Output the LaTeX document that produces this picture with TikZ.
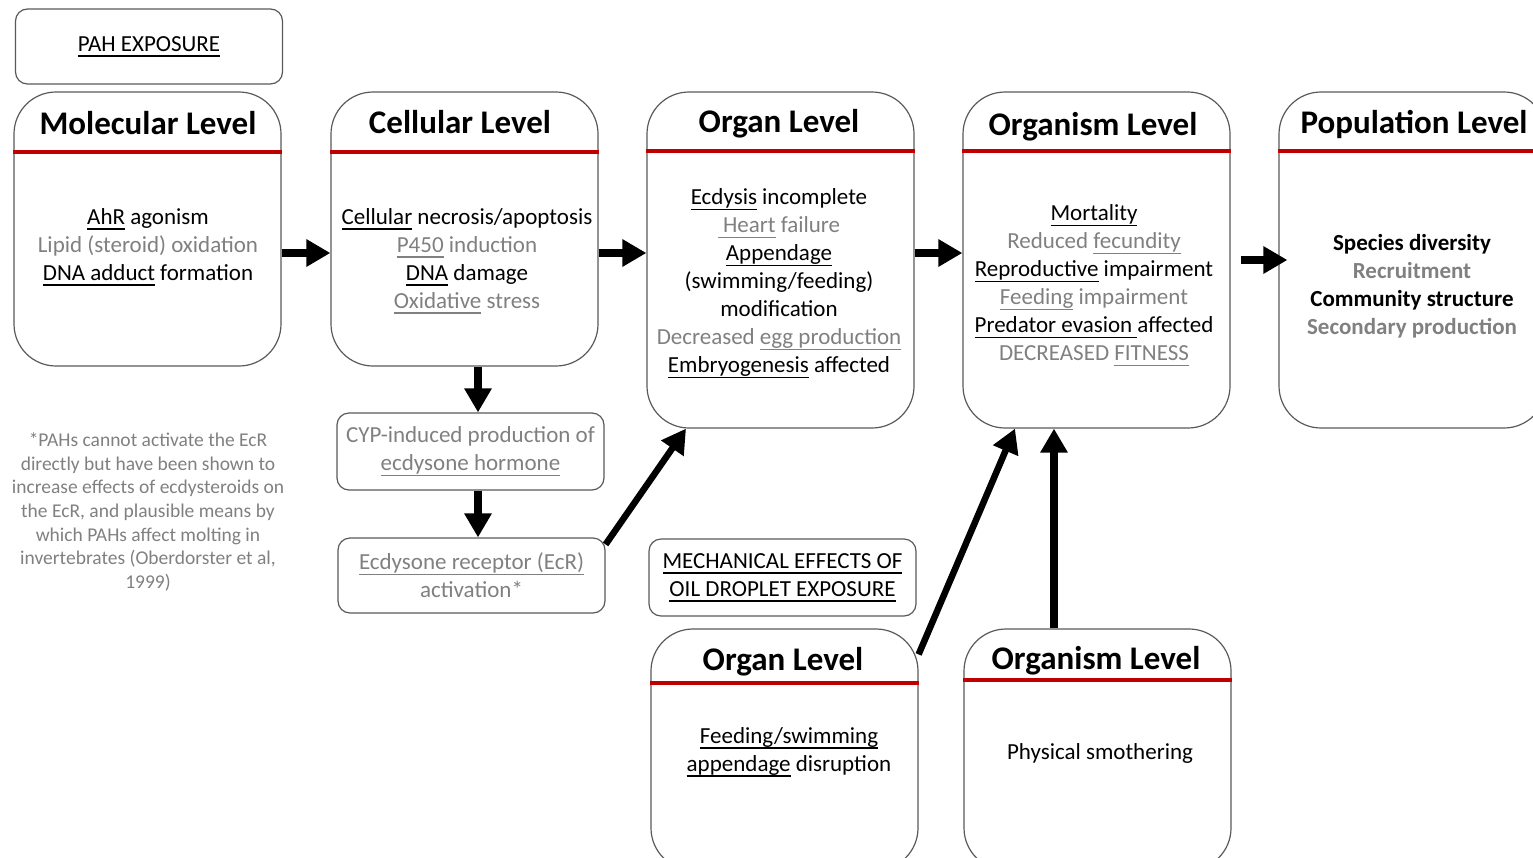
\documentclass[tikz,border=0pt]{standalone}
\usepackage{fontspec}
\setmainfont{Carlito}
\usepackage{tikz}
\usetikzlibrary{arrows.meta}
\definecolor{boxgray}{HTML}{595959}
\definecolor{txtgray}{HTML}{808080}
\definecolor{rulered}{HTML}{C00000}
\newcommand{\lgr}[1]{\textcolor{txtgray}{#1}}
% underline at a fixed depth
\newcommand{\ulx}[1]{\setbox0\hbox{#1}\leavevmode\rlap{\rule[-5.4pt]{\wd0}{1.2pt}}\box0\relax}

\begin{document}
\begin{tikzpicture}[x=1pt, y=-1pt,
  lvlbox/.style={draw=boxgray, line width=1.2pt, rounded corners=42pt, minimum width=267pt, inner sep=0pt},
  smallbox/.style={draw=boxgray, line width=1.2pt, rounded corners=12pt, minimum width=267pt, inner sep=0pt, align=center, font=\fontsize{23}{28}\selectfont},
  lvltitle/.style={inner sep=0pt, font=\fontsize{33}{38}\selectfont\bfseries},
  body/.style={align=center, inner sep=0pt, font=\fontsize{23}{28}\selectfont},
  note/.style={align=center, inner sep=0pt, text=txtgray, font=\fontsize{19.5}{23.6}\selectfont},
  redrule/.style={draw=rulered, line width=4pt},
  bigarrow/.style={line width=7.5pt, -{Triangle[length=24pt, width=26pt]}}]
\useasboundingbox (0,0) rectangle (1533,857);

% exposure label
\node [smallbox, minimum height=75pt] (pah) at (149,46.5) {\ulx{PAH EXPOSURE}};

% molecular level
\node [lvlbox, minimum height=274pt] (mol) at (147.5,229) {};
\draw [redrule] ([yshift=-61pt]mol.north west) -- ([yshift=-61pt]mol.north east);
\node [lvltitle] (moltitle) at (148,123) {Molecular Level};
\node [body] (moltxt) at (148,247) {\ulx{AhR} agonism\\ \lgr{Lipid (steroid) oxidation}\\ \ulx{DNA adduct} formation};

% cellular level
\node [lvlbox, minimum height=274pt] (cell) at (464.5,229) {};
\draw [redrule] ([yshift=-61pt]cell.north west) -- ([yshift=-61pt]cell.north east);
\node [lvltitle] (celltitle) at (460,122) {Cellular Level};
\node [body] (celltxt) at (467,261) {\ulx{Cellular}\ necrosis/apoptosis\\ \lgr{\ulx{P450} induction}\\ \ulx{DNA} damage\\ \lgr{\ulx{Oxidative} stress}};

% organ level
\node [lvlbox, minimum height=336pt] (organ) at (780.5,260) {};
\draw [redrule] ([yshift=-60pt]organ.north west) -- ([yshift=-60pt]organ.north east);
\node [lvltitle] (organtitle) at (779,124) {Organ Level};
\node [body] (organtxt) at (779,283.5) {\ulx{Ecdysis} incomplete\\ \lgr{\ulx{ Heart} failure}\\ \ulx{Appendage}\\ (swimming/feeding)\\ modification\\ \lgr{Decreased \ulx{egg production}}\\ \ulx{Embryogenesis} affected};

% organism level
\node [lvlbox, minimum height=336pt] (orgm) at (1096.5,260) {};
\draw [redrule] ([yshift=-60pt]orgm.north west) -- ([yshift=-60pt]orgm.north east);
\node [lvltitle] (orgmtitle) at (1093,127) {Organism Level};
\node [body] (orgmtxt) at (1094,285.5) {\ulx{Mortality}\\ \lgr{Reduced \ulx{fecundity}}\\ \ulx{Reproductive} impairment\\ \lgr{\ulx{Feeding} impairment}\\ \ulx{Predator evasion\ }affected\\ \lgr{DECREASED \ulx{FITNESS}}};

% population level
\node [lvlbox, minimum height=336pt] (pop) at (1412.5,260) {};
\draw [redrule] ([yshift=-60pt]pop.north west) -- ([yshift=-60pt]pop.north east);
\node [lvltitle] (poptitle) at (1414,124) {Population Level};
\node [body, font=\fontsize{23}{28}\selectfont\bfseries] (poptxt) at (1412,286.5) {Species diversity\\ \lgr{Recruitment}\\ Community structure\\ \lgr{Secondary production}};

% ecdysone pathway
\node [smallbox, minimum height=77pt, text=txtgray] (cyp) at (470.5,451.5) {CYP-induced production of\\ \ulx{ecdysone hormone}};
\node [smallbox, minimum height=75pt, text=txtgray] (ecr) at (471.5,575.5) {\ulx{Ecdysone receptor (EcR)}\\ activation*};
\node [note] (foot) at (148,512) {*PAHs cannot activate the EcR\\ directly but have been shown to\\ increase effects of ecdysteroids on\\ the EcR, and plausible means by\\ which PAHs affect molting in\\ invertebrates (Oberdorster et al,\\ 1999)};

% oil droplet effects
\node [smallbox, minimum height=77pt] (mech) at (782.5,577.5) {\ulx{MECHANICAL EFFECTS OF}\\ \ulx{OIL DROPLET EXPOSURE}};
\node [lvlbox, minimum height=241pt] (borg) at (784.5,749.5) {};
\draw [redrule] ([yshift=-55pt]borg.north west) -- ([yshift=-55pt]borg.north east);
\node [lvltitle] (borgtitle) at (783,662) {Organ Level};
\node [body] (borgtxt) at (789,752) {\ulx{Feeding/swimming}\\ \ulx{appendage} disruption};
\node [lvlbox, minimum height=241pt] (borgm) at (1097.5,749.5) {};
\draw [redrule] ([yshift=-52pt]borgm.north west) -- ([yshift=-52pt]borgm.north east);
\node [lvltitle] (borgmtitle) at (1096,661) {Organism Level};
\node [body] (borgmtxt) at (1100,753) {Physical smothering};

% arrows
\draw [bigarrow] ([yshift=-24pt]mol.east) -- ([yshift=-24pt]cell.west);
\draw [bigarrow] ([yshift=-24pt]cell.east) -- ([yshift=7pt]organ.west);
\draw [bigarrow] ([yshift=7pt]organ.east) -- ([yshift=7pt]orgm.west);
\draw [bigarrow] ([xshift=10pt]orgm.east) -- ([xshift=9pt]pop.west);
\draw [bigarrow] ([xshift=13.5pt]cell.south) -- ([xshift=7.5pt]cyp.north);
\draw [bigarrow] ([xshift=7.5pt]cyp.south) -- ([xshift=6.5pt]ecr.north);
\draw [bigarrow, line width=6.5pt] ([yshift=-7pt]ecr.north east) -- ([xshift=-94.5pt]organ.south);
\draw [bigarrow, line width=6.5pt] ([yshift=-26pt]borg.north east) -- ([xshift=-81.5pt]orgm.south);
\draw [bigarrow] ([xshift=-43.5pt]borgm.north) -- ([xshift=-42.5pt]orgm.south);
\end{tikzpicture}
\end{document}
